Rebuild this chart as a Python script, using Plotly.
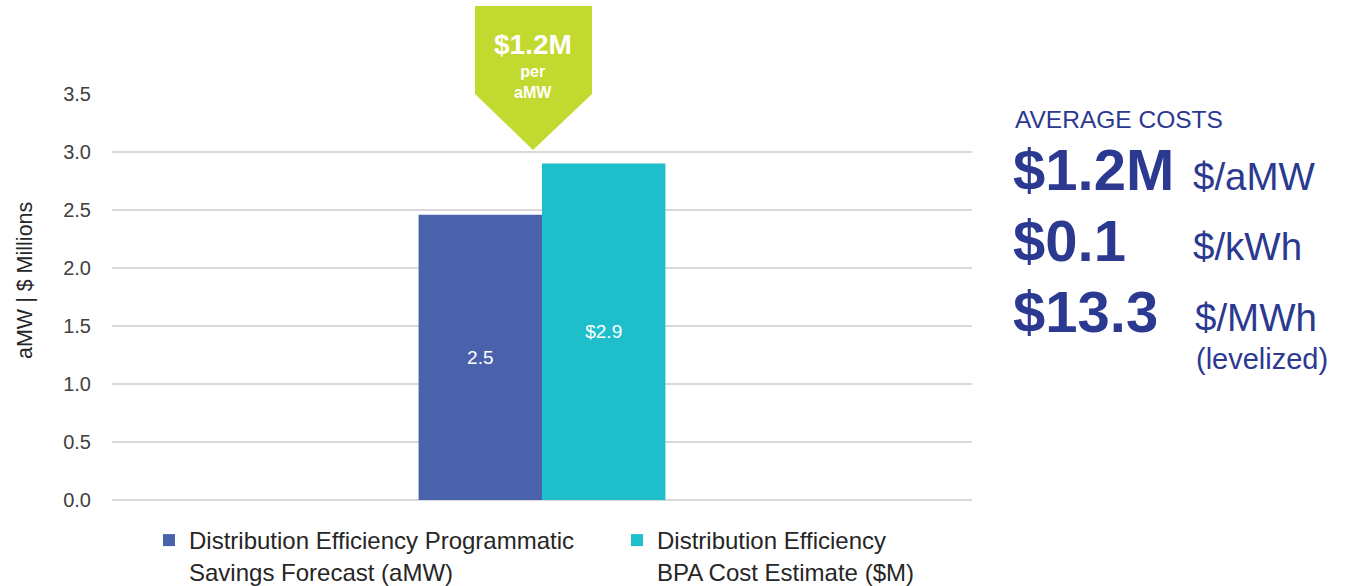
import plotly.graph_objects as go

# Chart data
categories = [""]
savings_forecast_amw = [2.46]
bpa_cost_estimate_musd = [2.9]
series_names = [
    "Distribution Efficiency Programmatic<br>Savings Forecast (aMW)",
    "Distribution Efficiency<br>BPA Cost Estimate ($M)",
]
y_ticks = [0.0, 0.5, 1.0, 1.5, 2.0, 2.5, 3.0, 3.5]

W, H = 1346, 586
L, R, T, B = 112, 374, 94, 86
PW, PH = W - L - R, H - T - B

BLUE = "#4A62AC"
TEAL = "#1EBFCA"
GREEN = "#C2D92F"
NAVY = "#2B3990"
GREY_TXT = "#404040"
FONT = "Liberation Sans, Arial, sans-serif"


def px(x):
    return (x - L) / PW


def py(y):
    return (T + PH - y) / PH


fig = go.Figure()
fig.add_trace(go.Bar(
    x=categories, y=savings_forecast_amw, name=series_names[0], legend="legend",
    marker=dict(color=BLUE, line=dict(width=0)),
    texttemplate="%{y:.1f}", textposition="inside", insidetextanchor="middle",
    textfont=dict(color="white", size=19, family=FONT),
))
fig.add_trace(go.Bar(
    x=categories, y=bpa_cost_estimate_musd, name=series_names[1], legend="legend2",
    marker=dict(color=TEAL, line=dict(width=0)),
    texttemplate="$%{y:.1f}", textposition="inside", insidetextanchor="middle",
    textfont=dict(color="white", size=19, family=FONT),
))

# Arrow callout above the bars
arrow = [(475, 6), (592, 6), (592, 94), (533, 150), (475, 94)]
path = "M " + " L ".join(f"{px(a):.5f},{py(b):.5f}" for a, b in arrow) + " Z"
shapes = [dict(type="path", xref="paper", yref="paper", path=path,
               fillcolor=GREEN, line=dict(width=0), layer="above")]

annotations = [
    dict(text="<b>$1.2M</b>", x=px(533), y=py(44), font=dict(size=28, color="white", family=FONT)),
    dict(text="<b>per<br>aMW</b>", x=px(533), y=py(82), font=dict(size=16, color="white", family=FONT)),
    # y-axis title
    dict(text="aMW | $ Millions", x=px(25), y=py(281), textangle=-90,
         font=dict(size=21.5, color="#262626", family=FONT)),
    # Average costs panel
    dict(text="AVERAGE COSTS", x=px(1013), y=py(119), xanchor="left",
         font=dict(size=24.5, color=NAVY, family=FONT)),
    dict(text="<b>$1.2M</b>", x=px(1011), y=py(169), xanchor="left",
         font=dict(size=58, color=NAVY, family=FONT)),
    dict(text="$/aMW", x=px(1191), y=py(176), xanchor="left",
         font=dict(size=38.5, color=NAVY, family=FONT)),
    dict(text="<b>$0.1</b>", x=px(1011), y=py(240), xanchor="left",
         font=dict(size=58, color=NAVY, family=FONT)),
    dict(text="$/kWh", x=px(1191), y=py(246), xanchor="left",
         font=dict(size=38.5, color=NAVY, family=FONT)),
    dict(text="<b>$13.3</b>", x=px(1011), y=py(311), xanchor="left",
         font=dict(size=58, color=NAVY, family=FONT)),
    dict(text="$/MWh", x=px(1193), y=py(317), xanchor="left",
         font=dict(size=38.5, color=NAVY, family=FONT)),
    dict(text="(levelized)", x=px(1194), y=py(359), xanchor="left",
         font=dict(size=29, color=NAVY, family=FONT)),
]
for a in annotations:
    a.update(xref="paper", yref="paper", showarrow=False)
    a.setdefault("xanchor", "center")
    a.setdefault("yanchor", "middle")

legend_style = dict(
    orientation="h", xanchor="left", yanchor="top", valign="top",
    font=dict(size=24, color="#262626", family=FONT),
    itemclick=False, itemdoubleclick=False, bgcolor="rgba(0,0,0,0)",
)

fig.update_layout(
    width=W, height=H,
    margin=dict(l=L, r=R, t=T, b=B, pad=0, autoexpand=False),
    paper_bgcolor="white", plot_bgcolor="white",
    barmode="group", bargap=0.713, bargroupgap=0,
    font=dict(family=FONT, color=GREY_TXT),
    shapes=shapes, annotations=annotations,
    legend=dict(x=px(149), y=py(518), **legend_style),
    legend2=dict(x=px(617), y=py(518), **legend_style),
    showlegend=True,
)
fig.update_xaxes(showticklabels=False, showgrid=False, zeroline=False, showline=False,
                 ticks="")
fig.update_yaxes(range=[0, 3.5], tickvals=y_ticks, ticktext=[f"{v:.1f}" for v in y_ticks],
                 showgrid=True, gridcolor="#D9D9D9", gridwidth=1.5,
                 zeroline=True, zerolinecolor="#D9D9D9", zerolinewidth=1.5,
                 showline=False, ticks="", ticklabelstandoff=20,
                 tickfont=dict(size=20, color=GREY_TXT, family=FONT))

fig.write_html("out.html")
